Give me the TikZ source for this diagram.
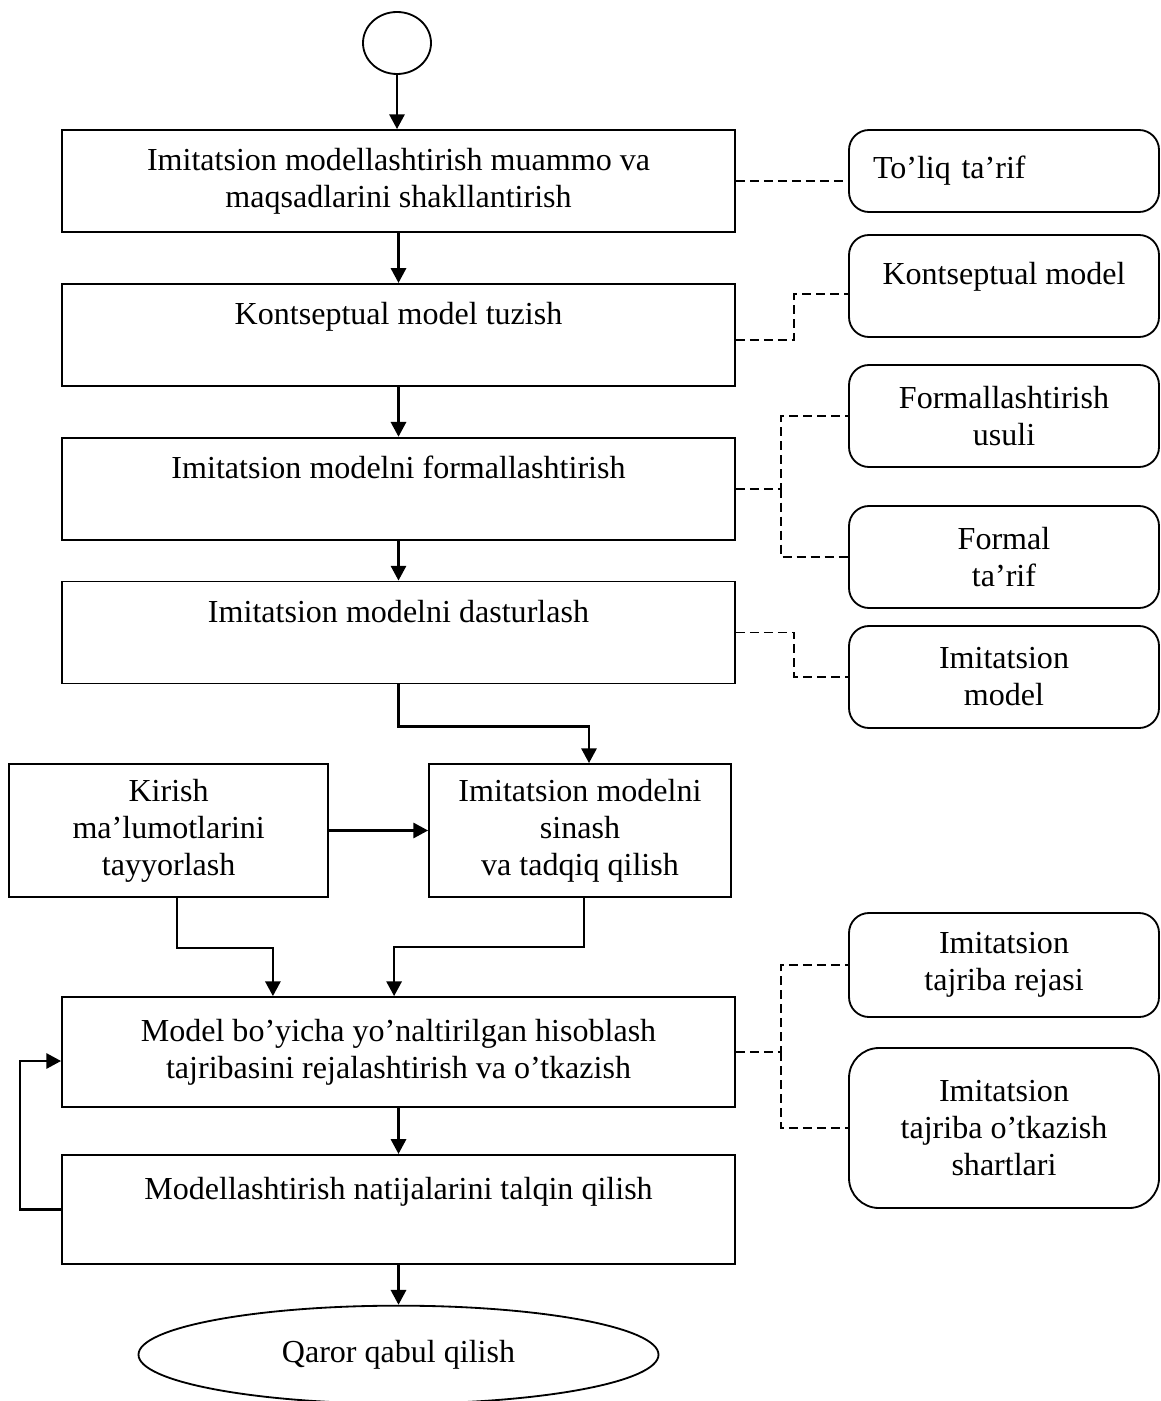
\documentclass[tikz,border=0pt]{standalone}
\usepackage{fontspec}
\setmainfont{Liberation Serif}
\usepackage{tikz}
\usetikzlibrary{shapes.geometric,arrows.meta,positioning,calc}
\newcommand{\boxfont}{\fontsize{22.8pt}{26.3pt}\selectfont}
\tikzset{
  blk/.style={rectangle,draw,line width=1.3pt,minimum width=16.825cm,minimum height=2.55cm,align=center,font=\boxfont,inner sep=2pt},
  hi/.style={text height=0.6cm,text depth=1.1cm},
  rb/.style={rectangle,draw,rounded corners=0.5cm,line width=1.3pt,minimum width=7.75cm,align=center,font=\boxfont},
  oval/.style={ellipse,draw,line width=1.3pt,inner sep=0pt,font=\boxfont},
  arr/.style={-{Triangle[length=0.37cm,width=0.38cm]},line width=1.8pt},
  dsh/.style={line width=1.3pt,dash pattern=on 0.225cm off 0.125cm},
}
\begin{document}
\begin{tikzpicture}[node distance=1.25cm]
  \useasboundingbox (0,0) rectangle (29,-35.025);
  \node[oval,minimum width=1.7cm,minimum height=1.55cm] (start) at (9.925,-1.075) {};
  \node[blk] (b1) at (9.9625,-4.525) {Imitatsion modellashtirish muammo va\\maqsadlarini shakllantirish};
  \node[blk,hi,below=of b1] (b2) {Kontseptual model tuzish};
  \node[blk,hi,below=of b2] (b3) {Imitatsion modelni formallashtirish};
  \node[blk,hi,below=1cm of b3] (b4) {Imitatsion modelni dasturlash};
  \node[blk,minimum width=7.55cm,minimum height=3.325cm] (test) at (14.5,-20.7625) {Imitatsion modelni\\sinash\\va tadqiq qilish};
  \node[blk,minimum width=7.975cm,minimum height=3.325cm,left=2.475cm of test] (inp) {Kirish\\ma’lumotlarini\\tayyorlash};
  \node[blk,minimum height=2.75cm] (b6) at (9.9625,-26.3) {Model bo’yicha yo’naltirilgan hisoblash\\tajribasini rejalashtirish va o’tkazish};
  \node[blk,hi,minimum height=2.725cm,below=1.15cm of b6] (b7) {Modellashtirish natijalarini talqin qilish};
  \node[oval,minimum width=13cm,minimum height=2.45cm,below=1cm of b7] (fin) {Qaror qabul qilish};

  \node[rb,minimum height=2.05cm,text width=6.55cm,inner xsep=0.6cm,align=left] (r1) at (25.1,-4.275) {To’liq ta’rif};
  \node[rb,minimum height=2.55cm,text height=0.55cm,text depth=0.64cm] (r2) at (25.1,-7.15) {Kontseptual model};
  \node[rb,minimum height=2.55cm] (r3) at (25.1,-10.4) {Formallashtirish\\usuli};
  \node[rb,minimum height=2.55cm] (r4) at (25.1,-13.925) {Formal\\ta’rif};
  \node[rb,minimum height=2.55cm] (r5) at (25.1,-16.925) {Imitatsion\\model};
  \node[rb,minimum height=2.6cm] (r6) at (25.1,-24.125) {Imitatsion\\tajriba rejasi};
  \node[rb,minimum height=4cm,rounded corners=0.75cm] (r7) at (25.1,-28.2) {Imitatsion\\tajriba o’tkazish\\shartlari};

  \draw[arr] (start.south) -- (start.south |- b1.north);
  \draw[arr] (b1) -- (b2); \draw[arr] (b2) -- (b3); \draw[arr] (b3) -- (b4);
  \draw[arr] (b4.south) -- ++(0,-1.05) -| ([xshift=0.225cm]test.north);
  \draw[arr] (inp) -- (test);
  \draw[arr] ([xshift=0.21cm]inp.south) -- ++(0,-1.25) -| ([xshift=-3.14cm]b6.north);
  \draw[arr] ([xshift=0.1cm]test.south) -- ++(0,-1.225) -| ([xshift=-0.11cm]b6.north);
  \draw[arr] (b6) -- (b7); \draw[arr] (b7) -- (fin);
  \draw[arr] (b7.west) -- ++(-1.025,0) |- ([yshift=-0.225cm]b6.west);

  \draw[dsh] (b1.east) -- (b1.east -| r1.west);
  \draw[dsh] ([yshift=-0.125cm]b2.east) -- ++(1.45,0) |- ([yshift=-0.2cm]r2.west);
  \coordinate (j3) at ($(b3.east)+(1.125,0)$);
  \draw[dsh] (b3.east) -- (j3) |- (r3.west);
  \draw[dsh] (j3) |- (r4.west);
  \draw[dsh] (b4.east) -- ++(1.45,0) |- (r5.west);
  \coordinate (j6) at ($(b6.east)+(1.125,0)$);
  \draw[dsh] (b6.east) -- (j6) |- (r6.west);
  \draw[dsh] (j6) |- (r7.west);
\end{tikzpicture}
\end{document}
